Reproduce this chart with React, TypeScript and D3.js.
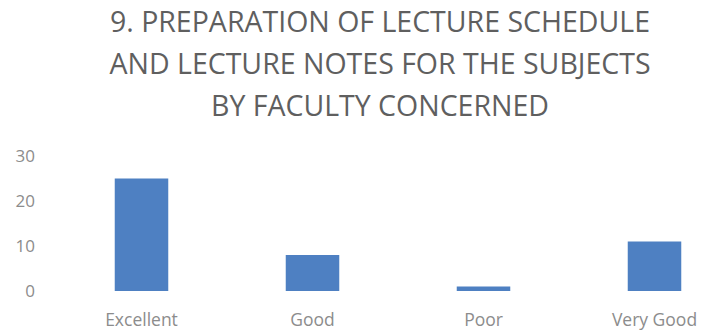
import React from "react";
import * as d3 from "d3";

const categories = ["Excellent", "Good", "Poor", "Very Good"];
const values = [25, 8, 1, 11];
const yTicks = [0, 10, 20, 30];
const titleLines = [
  "9. PREPARATION OF LECTURE SCHEDULE",
  "AND LECTURE NOTES FOR THE SUBJECTS",
  "BY FACULTY CONCERNED",
];

const W = 702;
const H = 334;

export default function App() {
  const x = d3
    .scaleBand<string>()
    .domain(categories)
    .range([56, 740])
    .paddingInner(0.687)
    .paddingOuter(0.3435);
  const y = d3.scaleLinear().domain([0, 30]).range([291, 156]);
  const font = "'Open Sans', sans-serif";
  return (
    <svg
      width={W}
      height={H}
      style={{ position: "absolute", left: 0, top: 0, background: "#fff" }}
    >
      {titleLines.map((t, i) => (
        <text
          key={i}
          x={380}
          y={32 + i * 42}
          textAnchor="middle"
          fontFamily={font}
          fontSize={28.5}
          fill="#5f5f5f"
        >
          {t}
        </text>
      ))}
      {yTicks.map((t) => (
        <text
          key={t}
          x={35}
          y={y(t) + 6}
          textAnchor="end"
          fontFamily={font}
          fontSize={17}
          fill="#8c8c8c"
        >
          {t}
        </text>
      ))}
      {categories.map((c, i) => (
        <rect
          key={c}
          x={x(c)}
          y={y(values[i])}
          width={x.bandwidth()}
          height={y(0) - y(values[i])}
          fill="#4e80c2"
        />
      ))}
      {categories.map((c) => (
        <text
          key={c}
          x={(x(c) as number) + x.bandwidth() / 2}
          y={326}
          textAnchor="middle"
          fontFamily={font}
          fontSize={17.5}
          fill="#8c8c8c"
        >
          {c}
        </text>
      ))}
    </svg>
  );
}
